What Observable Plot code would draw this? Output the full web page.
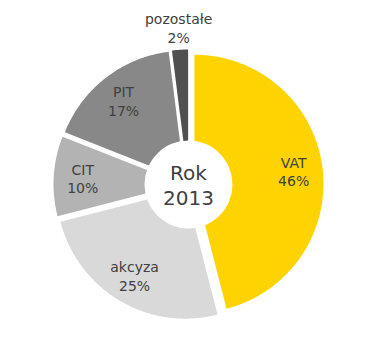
<!DOCTYPE html>
<html><head><meta charset="utf-8">
<script src="https://cdn.jsdelivr.net/npm/d3@7"></script>
<script src="https://cdn.jsdelivr.net/npm/@observablehq/plot@0.6"></script>
<style>
html,body{margin:0;padding:0;background:#fff}
svg{display:block}
</style>
</head><body><div id="chart"></div>
<script>
const categories = ["VAT", "akcyza", "CIT", "PIT", "pozostałe"];
const shares = [46, 25, 10, 17, 2];
const colors = ["#FFD300", "#D9D9D9", "#B3B3B3", "#888888", "#505050"];
const centerLines = ["Rok", "2013"];

const R = 129, OFF = 6, HOLE = 44, LABEL_R = 106, OUT_LABEL_R = 157;
const arcs = d3.pie().sort(null).value(d => d)(shares);
const pts = [];
const labels = [];
arcs.forEach((p, i) => {
  const cat = categories[i];
  const mid = (p.startAngle + p.endAngle) / 2;
  const ox = OFF * Math.sin(mid), oy = -OFF * Math.cos(mid);
  pts.push({cat, x: ox, y: oy});
  const n = Math.max(4, Math.ceil((p.endAngle - p.startAngle) / 0.01));
  for (let k = 0; k <= n; k++) {
    const a = p.startAngle + (p.endAngle - p.startAngle) * k / n;
    pts.push({cat, x: ox + R * Math.sin(a), y: oy - R * Math.cos(a)});
  }
  pts.push({cat, x: ox, y: oy});
  const small = shares[i] < 5;
  const lr = small ? OUT_LABEL_R : LABEL_R;
  labels.push({text: `${cat}\n${shares[i]}%`, x: lr * Math.sin(mid), y: -lr * Math.cos(mid)});
});

const chart = Plot.plot({
  width: 378,
  height: 346,
  margin: 0,
  x: {domain: [-188, 190], range: [0, 378], axis: null},
  y: {domain: [-184, 162], range: [0, 346], axis: null},
  color: {domain: categories, range: colors},
  style: {fontFamily: "'DejaVu Sans', sans-serif", background: "#fff"},
  marks: [
    Plot.line(pts, {x: "x", y: "y", z: "cat", fill: "cat", stroke: null, curve: "linear-closed"}),
    Plot.dot([{x: 0, y: 0}], {x: "x", y: "y", r: HOLE, fill: "white", stroke: null}),
    Plot.text(labels, {x: "x", y: "y", text: "text", fontSize: 14, lineHeight: 1.32, fill: "#404040"}),
    Plot.text([{t: centerLines.join("\n"), x: 0, y: 0}], {x: "x", y: "y", text: "t", fontSize: 20, lineHeight: 1.25, fill: "#404040"})
  ]
});
document.getElementById("chart").append(chart);
</script>
</body></html>
